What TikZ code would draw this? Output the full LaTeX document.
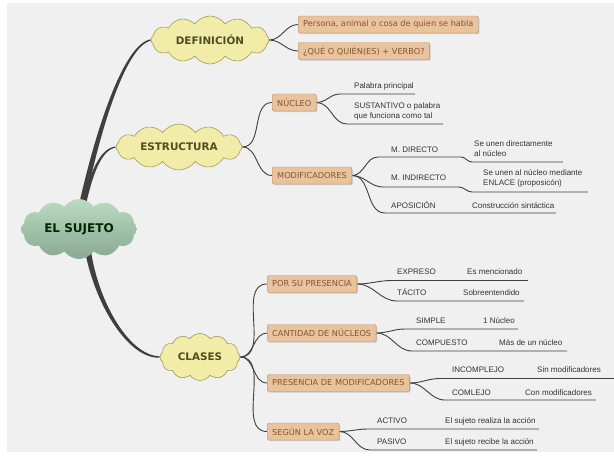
\documentclass[tikz,border=0pt]{standalone}
\usepackage{fontspec}
\setmainfont{DejaVu Sans}
\newfontfamily\hojafont{Liberation Sans}
\usetikzlibrary{shapes.symbols,shadows,backgrounds}

\definecolor{fondo}{HTML}{F0F0F0}
\definecolor{nube}{HTML}{F1EDA8}
\definecolor{nubeborde}{HTML}{A09D5E}
\definecolor{nubetexto}{HTML}{4F4F1D}
\definecolor{verdeclaro}{HTML}{BADCBF}
\definecolor{verdeoscuro}{HTML}{88A894}
\definecolor{caja}{HTML}{E9C39E}
\definecolor{cajaborde}{HTML}{B68E69}
\definecolor{cajatexto}{HTML}{85562F}
\definecolor{rama}{HTML}{3F3F3F}

\tikzset{
  nubeamarilla/.style={cloud, cloud puffs=12, cloud puff arc=110, cloud ignores aspect,
    draw=nubeborde, fill=nube, text=nubetexto, inner sep=0pt, line width=0.6pt,
    font=\bfseries\fontsize{10.4}{12}\selectfont},
  cajita/.style={draw=cajaborde, fill=caja, rounded corners=2pt, text=cajatexto,
    font=\fontsize{8.2}{10}\selectfont, minimum height=17pt, inner xsep=5pt, inner ysep=0pt,
    anchor=west, drop shadow={shadow xshift=1pt, shadow yshift=-1.2pt, fill=black!35}},
  hoja/.style={font=\hojafont\fontsize{8}{9.5}\selectfont, text=black!80, inner sep=0pt,
    anchor=west, text height=5.8pt, text depth=1.5pt},
  hoja2/.style={font=\hojafont\fontsize{8}{9.5}\selectfont, text=black!80, inner sep=0pt,
    anchor=west, align=left},
  linea/.style={draw=rama, line width=0.9pt},
  tronco/.style={fill=rama}
}

\begin{document}
\begin{tikzpicture}[x=1pt,y=-1pt]
    \useasboundingbox (0,0) rectangle (614,459);

    % nubes
    \node[cloud, cloud puffs=12, cloud puff arc=110, cloud ignores aspect, inner sep=0pt,
      top color=verdeclaro, bottom color=verdeoscuro, text=black!85!green,
      minimum width=116pt, minimum height=60pt,
      font=\bfseries\fontsize{12}{14}\selectfont] (sujeto) at (79,229) {EL SUJETO};
    \node[nubeamarilla, minimum width=118pt, minimum height=48pt] (def) at (210,40) {DEFINICIÓN};
    \node[nubeamarilla, minimum width=126pt, minimum height=46pt] (estr) at (179,147) {ESTRUCTURA};
    \node[nubeamarilla, minimum width=80pt, minimum height=47pt] (clases) at (200,357) {CLASES};

    % cajas
    \node[cajita] (persona) at (298,24.5) {Persona, animal o cosa de quien se habla};
    \node[cajita] (quien) at (298,51) {¿QUÉ O QUIÉN(ES) + VERBO?};
    \node[cajita] (nucleo) at (272,102.5) {NÚCLEO};
    \node[cajita] (modif) at (272,175.5) {MODIFICADORES};
    \node[cajita] (porsu) at (267,284) {POR SU PRESENCIA};
    \node[cajita] (cant) at (267,333) {CANTIDAD DE NÚCLEOS};
    \node[cajita] (pres) at (267,383) {PRESENCIA DE MODIFICADORES};
    \node[cajita] (segun) at (267,431.5) {SEGÚN LA VOZ};

    % nucleo
    \coordinate (n1a) at (340,94);  \coordinate (n1b) at (415,94);
    \coordinate (n2a) at (347,124); \coordinate (n2b) at (443,124);
    \node[hoja] (pal) at (354,86) {Palabra principal};
    \node[hoja2] (sust) at (354,111.5) {SUSTANTIVO o palabra\\que funciona como tal};

    % modificadores
    \coordinate (m1a) at (378,157); \coordinate (m1b) at (461,157);
    \coordinate (m1c) at (472,162); \coordinate (m1d) at (563,162);
    \coordinate (m2a) at (383,187); \coordinate (m2b) at (459,187);
    \coordinate (m2c) at (472,192); \coordinate (m2d) at (588,192);
    \coordinate (m3a) at (385,213); \coordinate (m3b) at (556,213);
    \node[hoja] (mdir) at (391,150) {M. DIRECTO};
    \node[hoja2] (mdirT) at (474,148.5) {Se unen directamente\\al núcleo};
    \node[hoja] (mind) at (391,178.5) {M. INDIRECTO};
    \node[hoja2] (mindT) at (483,178.5) {Se unen al núcleo mediante\\ENLACE (proposicón)};
    \node[hoja] (apo) at (391,206) {APOSICIÓN};
    \node[hoja] (apoT) at (472,206) {Construcción sintáctica};

    % clases
    \coordinate (p1a) at (392,280.5); \coordinate (p1b) at (528,280.5);
    \coordinate (p2a) at (397,301);   \coordinate (p2b) at (524,301);
    \node[hoja] (expr) at (397,272.5) {EXPRESO};
    \node[hoja] (exprT) at (467,272.5) {Es mencionado};
    \node[hoja] (tac) at (397,293) {TÁCITO};
    \node[hoja] (tacT) at (463,293) {Sobreentendido};

    \coordinate (c1a) at (405,329); \coordinate (c1b) at (518,329);
    \coordinate (c2a) at (412,351); \coordinate (c2b) at (567,351);
    \node[hoja] (simp) at (416,321) {SIMPLE};
    \node[hoja] (simpT) at (483,321) {1 Núcleo};
    \node[hoja] (comp) at (416,343) {COMPUESTO};
    \node[hoja] (compT) at (499,343) {Más de un núcleo};

    \coordinate (i1a) at (440,378.5); \coordinate (i1b) at (614,378.5);
    \coordinate (i2a) at (445,400);   \coordinate (i2b) at (596,400);
    \node[hoja] (inc) at (452,370.5) {INCOMPLEJO};
    \node[hoja] (incT) at (537,370.5) {Sin modificadores};
    \node[hoja] (com) at (452,393) {COMLEJO};
    \node[hoja] (comT) at (525,393) {Con modificadores};

    \coordinate (s1a) at (368,429); \coordinate (s1b) at (539,429);
    \coordinate (s2a) at (370,450); \coordinate (s2b) at (537,450);
    \node[hoja] (act) at (377,421.5) {ACTIVO};
    \node[hoja] (actT) at (445,421.5) {El sujeto realiza la acción};
    \node[hoja] (pas) at (377,442.5) {PASIVO};
    \node[hoja] (pasT) at (445,442.5) {El sujeto recibe la acción};

    \begin{scope}[on background layer]
    \fill[fondo] (7,3) rectangle (614,452);

    % troncos
    \fill[tronco] ([xshift=-0.5pt,yshift=-8pt]sujeto.north) .. controls (96,128) and (124,43.5) .. ([yshift=0.7pt]def.west)
      -- ([yshift=-0.7pt]def.west) .. controls (125.5,46.5) and (100,130) .. ([xshift=5.5pt,yshift=-8pt]sujeto.north) -- cycle;
    \fill[tronco] ([xshift=2.5pt,yshift=-8pt]sujeto.north) .. controls (90,172) and (100,148) .. ([yshift=0.5pt]estr.west)
      -- ([yshift=-0.5pt]estr.west) .. controls (101.5,150) and (92.5,174) .. ([xshift=6.5pt,yshift=-8pt]sujeto.north) -- cycle;
    \fill[tronco] ([xshift=6pt,yshift=8pt]sujeto.south) .. controls (95.5,306.5) and (129,359) .. ([yshift=-0.7pt]clases.west)
      -- ([yshift=0.7pt]clases.west) .. controls (130.5,356) and (99,304.5) .. ([xshift=12pt,yshift=8pt]sujeto.south) -- cycle;

    % ramas
    \foreach \b in {persona,quien}
        \draw[linea] (def.east) to[out=0,in=180] (\b.west);
    \foreach \b in {nucleo,modif}
        \draw[linea] (estr.east) to[out=0,in=180] (\b.west);
    \foreach \b in {porsu,cant,pres,segun}
        \draw[linea] (clases.east) to[out=0,in=180] (\b.west);

    \draw[linea] (nucleo.east) to[out=0,in=180] (n1a) -- (n1b);
    \draw[linea] (nucleo.east) to[out=0,in=180] (n2a) -- (n2b);
    \draw[linea] (modif.east) to[out=0,in=180] (m1a) -- (m1b) to[out=0,in=180] (m1c) -- (m1d);
    \draw[linea] (modif.east) to[out=0,in=180] (m2a) -- (m2b) to[out=0,in=180] (m2c) -- (m2d);
    \draw[linea] (modif.east) to[out=0,in=180] (m3a) -- (m3b);
    \draw[linea] (porsu.east) to[out=0,in=180] (p1a) -- (p1b);
    \draw[linea] (porsu.east) to[out=0,in=180] (p2a) -- (p2b);
    \draw[linea] (cant.east) to[out=0,in=180] (c1a) -- (c1b);
    \draw[linea] (cant.east) to[out=0,in=180] (c2a) -- (c2b);
    \draw[linea] (pres.east) to[out=0,in=180] (i1a) -- (i1b);
    \draw[linea] (pres.east) to[out=0,in=180] (i2a) -- (i2b);
    \draw[linea] (segun.east) to[out=0,in=180] (s1a) -- (s1b);
    \draw[linea] (segun.east) to[out=0,in=180] (s2a) -- (s2b);
    \end{scope}
\end{tikzpicture}
\end{document}
